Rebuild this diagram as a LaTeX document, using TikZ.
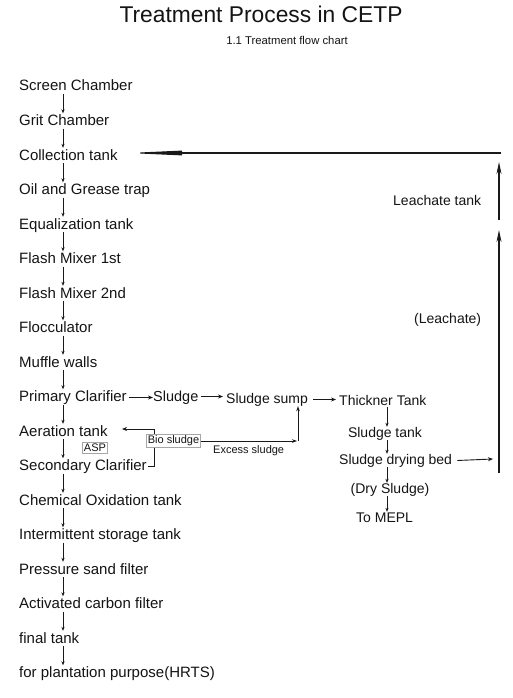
\documentclass[tikz,border=0pt]{standalone}
\usepackage{fontspec}
\setmainfont{Liberation Sans}
\usetikzlibrary{arrows.meta}
\begin{document}
\begin{tikzpicture}[x=1pt,y=-1pt,
  lbl/.style={inner sep=0pt,text height=11pt,text depth=3pt,font=\fontsize{15}{17}\selectfont,text=black!92},
  rlbl/.style={inner sep=0pt,text height=10pt,text depth=3pt,font=\fontsize{14}{16}\selectfont,text=black!92},
  tag/.style={draw=black!35,inner sep=1.5pt,font=\fontsize{11}{12}\selectfont,text=black!92},
  sarr/.style={draw=black!90,line width=0.75pt,-{Stealth[length=4pt,width=3.2pt]}},
  harr/.style={draw=black!90,line width=0.9pt,-{Stealth[length=5pt,width=4pt]}},
  barr/.style={draw=black!90,line width=1.3pt,-{Stealth[length=12pt,width=5pt]}},
  pline/.style={draw=black!90,line width=0.75pt}]
\useasboundingbox[fill=white] (0,0) rectangle (512,698);
\node[anchor=base,font=\fontsize{22.8}{26}\selectfont,text=black!92] (title) at (261,23) {Treatment Process in CETP};
\node[anchor=base,font=\fontsize{11.3}{13}\selectfont,text=black!92] (sub) at (287,45) {1.1 Treatment flow chart};
\coordinate (vx) at (63,0);
\foreach \i/\t in {0/Screen Chamber,1/Grit Chamber,2/Collection tank,3/Oil and Grease trap,4/Equalization tank,5/Flash Mixer 1st,6/Flash Mixer 2nd,7/Flocculator,8/Muffle walls,9/Primary Clarifier,10/Aeration tank,11/Secondary Clarifier,12/Chemical Oxidation tank,13/Intermittent storage tank,14/Pressure sand filter,15/Activated carbon filter,16/final tank,17/for plantation purpose(HRTS)}
  \node[lbl,anchor=base west] (n\i) at (19,91+34.5*\i) {\t};
\foreach \i [evaluate=\i as \j using int(\i+1)] in {0,...,16}
  \draw[sarr] (n\i.south -| vx) -- ([yshift=1pt]n\j.north -| vx);
% sludge line
\node[rlbl,anchor=base west,font=\fontsize{14.5}{16}\selectfont] (sl) at (153,401) {Sludge};
\node[rlbl,anchor=base west] (sump) at (226,403) {Sludge sump};
\node[rlbl,anchor=base west] (thk) at (339,405) {Thickner Tank};
\node[rlbl,anchor=base] (stank) at (385,437) {Sludge tank};
\node[rlbl,anchor=base west] (bed) at (339,464) {Sludge drying bed};
\node[rlbl,anchor=base] (dry) at (390,493) {(Dry Sludge)};
\node[rlbl,anchor=base west] (mepl) at (356,522) {To MEPL};
\node[rlbl,anchor=base west] (ltank) at (393,205) {Leachate tank};
\node[rlbl,anchor=base west] (leach) at (414,323) {(Leachate)};
\draw[harr] ([xshift=2pt]n9.east) -- (n9.east -| sl.west);
\draw[harr] ([xshift=2pt,yshift=1pt]sl.east) -- ([xshift=-3pt,yshift=1pt]sl.east -| sump.west);
\draw[harr] ([xshift=5pt]sump.east) -- ([xshift=-3pt]sump.east -| thk.west);
\coordinate (rx) at (387,0);
\draw[sarr] ([yshift=1pt]thk.south -| rx) -- (stank.north -| rx);
\draw[sarr] (stank.south -| rx) -- (bed.north -| rx);
\draw[sarr] (bed.south -| rx) -- (dry.north -| rx);
\draw[sarr] (dry.south -| rx) -- (mepl.north -| rx);
\draw[harr] ([xshift=5pt]bed.east) -- (493,459);
% leachate return
\coordinate (lb) at (499,473);
\coordinate (lm1) at (499,230);
\coordinate (lm2) at (499,220);
\coordinate (lt) at (499,162);
\coordinate (tr) at (501,153);
\coordinate (tl) at (127,153);
\draw[barr] (lb) -- (lm1);
\draw[barr] (lm2) -- (lt);
\draw[draw=black!90,line width=1.1pt,-{Triangle[length=55pt,width=4.5pt]}] (tr) -- (tl);
% ASP loop
\node[tag] (asp) at (95,448) {ASP};
\node[tag] (bio) at (173.5,441) {Bio sludge};
\coordinate (bx) at (154,0);
\coordinate (atip) at (122,429);
\draw[pline,-{Stealth[length=5pt,width=4pt]}] (bio.north -| bx) |- (atip);
\draw[pline] (bio.south -| bx) |- ([xshift=1pt]n11.east);
\coordinate (etip) at (297,441);
\draw[pline,-{Stealth[length=5pt,width=3.5pt]}] (bio.east) -- (etip);
\coordinate (ux) at (298,441);
\draw[pline,-{Stealth[length=5pt,width=3.5pt]}] (ux) -- (sump.south -| ux);
\node[anchor=west,inner sep=0pt,font=\fontsize{11}{12}\selectfont,text=black!92] (ex) at (213,451) {Excess sludge};
\end{tikzpicture}
\end{document}
